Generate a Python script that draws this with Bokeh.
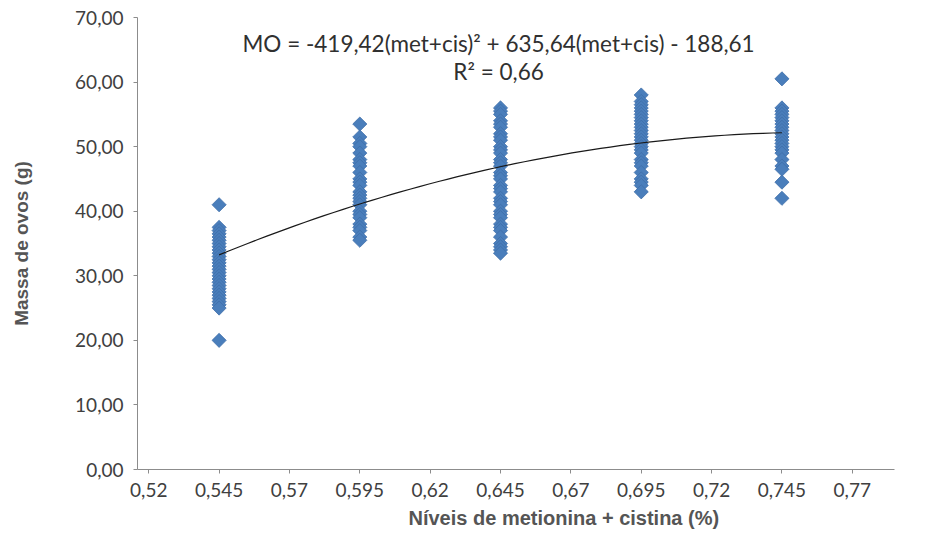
from bokeh.plotting import figure
from bokeh.models import Range1d, FixedTicker, Title, CustomJSTickFormatter
from bokeh.core.properties import value
from bokeh.embed import file_html
from bokeh.resources import INLINE
import math

# ---- data ----
lvl_545 = [41.0, 37.5, 37.0, 36.5, 36.0, 35.5, 35.0, 34.5, 34.0, 33.5, 33.0, 32.5, 32.0,
           31.5, 31.0, 30.5, 30.0, 29.5, 29.0, 28.5, 28.0, 27.5, 27.0, 26.5, 26.0, 25.5, 25.0, 20.0]
lvl_595 = [53.5, 51.5, 50.5, 50.0, 49.0, 48.0, 47.5, 47.0, 46.0, 45.0, 44.5, 44.0, 43.0,
           42.5, 42.0, 41.5, 41.0, 40.0, 39.5, 39.0, 38.0, 37.5, 37.0, 36.0, 35.5]
lvl_645 = [56.0, 55.5, 55.0, 54.0, 53.5, 53.0, 52.0, 51.5, 51.0, 50.0, 49.5, 49.0, 48.0,
           47.5, 47.0, 46.0, 45.5, 45.0, 44.0, 43.5, 43.0, 42.0, 41.5, 41.0, 40.0, 39.5,
           39.0, 38.0, 37.5, 37.0, 36.0, 35.0, 34.5, 34.0, 33.5]
lvl_695 = [58.0, 57.0, 56.5, 56.0, 55.5, 55.0, 54.5, 54.0, 53.5, 53.0, 52.5, 52.0, 51.5,
           51.0, 50.5, 50.0, 49.5, 49.0, 48.0, 47.5, 47.0, 46.0, 45.0, 44.5, 44.0, 43.0]
lvl_745 = [60.5, 56.0, 55.5, 55.0, 54.5, 54.0, 53.5, 53.0, 52.5, 52.0, 51.5, 51.0, 50.5,
           50.0, 49.5, 49.0, 48.0, 47.0, 46.5, 44.5, 42.0]
levels = [0.545, 0.595, 0.645, 0.695, 0.745]
groups = [lvl_545, lvl_595, lvl_645, lvl_695, lvl_745]

# trendline coefficients (from the chart's equation)
coef_a, coef_b, coef_c = -419.42, 635.64, -188.61

x_ticks = [0.52, 0.545, 0.57, 0.595, 0.62, 0.645, 0.67, 0.695, 0.72, 0.745, 0.77]
x_tick_labels = ["0,52", "0,545", "0,57", "0,595", "0,62", "0,645", "0,67", "0,695", "0,72", "0,745", "0,77"]
y_ticks = [0, 10, 20, 30, 40, 50, 60, 70]

eq_text = "MO = -419,42(met+cis)\u00b2 + 635,64(met+cis) - 188,61"
r2_text = "R\u00b2 = 0,66"

xs, ys = [], []
for lv, g in zip(levels, groups):
    xs += [lv] * len(g)
    ys += g

# trendline sampled between first and last level
n = 60
cx = [levels[0] + (levels[-1] - levels[0]) * i / (n - 1) for i in range(n)]
cy = [coef_a * v * v + coef_b * v + coef_c for v in cx]

p = figure(width=920, height=544, output_backend="svg", toolbar_location=None,
           x_range=Range1d(0.516, 0.785), y_range=Range1d(0, 70),
           min_border_left=137, min_border_top=17, min_border_bottom=75, min_border_right=26)
p.outline_line_color = None
p.grid.visible = False
p.background_fill_color = "white"

p.scatter(xs, ys, marker="square", size=10, angle=math.pi / 4, fill_color="#4A7EBB",
          line_color="#3F6FAA", line_width=0.8)
p.line(cx, cy, line_color="#1a1a1a", line_width=1.2)

tick_font = "Lato"
p.xaxis.ticker = FixedTicker(ticks=x_ticks)
p.xaxis.major_label_overrides = {t: l for t, l in zip(x_ticks, x_tick_labels)}
p.yaxis.ticker = FixedTicker(ticks=y_ticks)
p.yaxis.formatter = CustomJSTickFormatter(code="return tick.toFixed(2).replace('.', ',');")

for ax in (p.xaxis, p.yaxis):
    ax.axis_line_color = "#8c8c8c"
    ax.major_tick_line_color = "#8c8c8c"
    ax.minor_tick_line_color = None
    ax.major_tick_in = 0
    ax.major_tick_out = 4
    ax.major_label_text_font = tick_font
    ax.major_label_text_font_size = "19px"
    ax.major_label_text_color = "#404040"

p.xaxis.major_label_standoff = 9
p.yaxis.major_label_standoff = 10

p.yaxis.axis_label = "Massa de ovos (g)"
p.yaxis.axis_label_text_font = "Liberation Sans"
p.yaxis.axis_label_text_font_style = "bold"
p.yaxis.axis_label_text_font_size = "19px"
p.yaxis.axis_label_text_color = "#555555"
p.yaxis.axis_label_standoff = 40

xt = Title(text="N\u00edveis de metionina + cistina (%)", align="left", offset=271,
           text_font="Liberation Sans", text_font_style="bold", text_font_size="20px",
           text_color="#555555")
p.add_layout(xt, "below")

p.text(x=[0.6443], y=[65.9], text=[eq_text], text_align="center", text_baseline="middle",
       text_font=value(tick_font), text_font_size="22.5px", text_color="#303030")
p.text(x=[0.6443], y=[61.7], text=[r2_text], text_align="center", text_baseline="middle",
       text_font=value(tick_font), text_font_size="22.5px", text_color="#303030")

open("out.html", "w").write(file_html(p, INLINE))
